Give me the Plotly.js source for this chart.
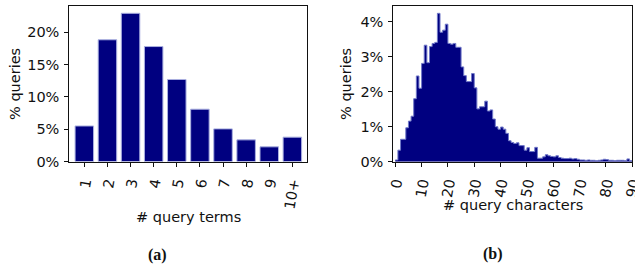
<!DOCTYPE html>
<html>
<head>
<meta charset="utf-8">
<script src="https://cdn.plot.ly/plotly-3.0.1.min.js"></script>
<style>html,body{margin:0;padding:0;background:#fff}#chart{width:635px;height:267px}</style>
</head>
<body>
<div id="chart"></div>
<script>
// (a) query terms
const termLabels = ['1','2','3','4','5','6','7','8','9','10+'];
const termPct = [5.5, 18.85, 22.95, 17.8, 12.7, 8.1, 5.05, 3.35, 2.27, 3.77];

// (b) query characters, one bin per character count starting at 0
const charStart = 0;
const charPct = [
  0.05, 0.33, 0.64, 0.64, 0.97, 1.16, 1.30, 1.80, 2.45, 2.10,
  2.81, 3.33, 2.83, 3.29, 3.38, 3.41, 4.24, 3.70, 3.76, 3.93,
  3.38, 3.36, 3.38, 3.27, 3.27, 2.71, 2.46, 2.29, 2.29, 2.52,
  2.11, 1.51, 1.57, 1.57, 1.73, 1.45, 1.48, 1.22, 1.00, 0.93,
  0.99, 0.93, 0.81, 0.60, 0.55, 0.52, 0.54, 0.46, 0.46, 0.33,
  0.40, 0.29, 0.29, 0.41, 0.10, 0.10, 0.14, 0.20, 0.17, 0.15,
  0.14, 0.17, 0.12, 0.10, 0.09, 0.09, 0.10, 0.08, 0.09, 0.07,
  0.05, 0.05, 0.04, 0.05, 0.04, 0.04, 0.03, 0.04, 0.05, 0.07,
  0.06, 0.04, 0.04, 0.03, 0.04, 0.04, 0.04, 0.03, 0.08, 0.03
];
const termTicks = [0, 5, 10, 15, 20];
const charYTicks = [0, 1, 2, 3, 4];
const charXTicks = [0, 10, 20, 30, 40, 50, 60, 70, 80, 90];

const W = 635, H = 267;
const px = v => v / W, py = v => 1 - v / H;
const FONT = 'DejaVu Sans, sans-serif';
const tickFont = {family: FONT, size: 14.5, color: '#111'};
const titleFont = {family: FONT, size: 14.5, color: '#111'};
const capFont = {family: 'Liberation Serif, serif', size: 16, color: '#111'};

// step outline for the histogram (extend last bin to its right edge)
const stepY = charPct.concat([charPct[charPct.length - 1]]);

const traces = [
  {
    type: 'bar', x: termLabels, y: termPct, xaxis: 'x', yaxis: 'y',
    width: 0.8,
    marker: {color: '#000080', line: {color: '#aab0e0', width: 1}},
    hoverinfo: 'x+y'
  },
  {
    type: 'scatter', mode: 'lines', x0: charStart, dx: 1, y: stepY,
    xaxis: 'x2', yaxis: 'y2', line: {shape: 'hv', color: '#7078c8', width: 1},
    fill: 'tozeroy', fillcolor: '#000080'
  }
];

const axisCommon = {
  showline: true, mirror: true, linecolor: '#111', linewidth: 1,
  ticks: 'outside', ticklen: 4, tickwidth: 1, tickcolor: '#111',
  showgrid: false, zeroline: false, tickfont: tickFont, ticklabelstandoff: 2,
  ticklabeloverflow: 'allow'
};

function ann(text, x, y, font, angle) {
  return {text: text, x: px(x), y: py(y), xref: 'paper', yref: 'paper',
          xanchor: 'center', yanchor: 'middle', textangle: angle || 0,
          showarrow: false, font: font};
}

const layout = {
  width: W, height: H, margin: {l: 0, r: 0, t: 0, b: 0},
  paper_bgcolor: '#fff', plot_bgcolor: '#fff', showlegend: false,
  xaxis: Object.assign({}, axisCommon, {
    domain: [px(69.3), px(306.7)], anchor: 'y', type: 'category',
    range: [-0.65, 9.62], tickangle: -80
  }),
  yaxis: Object.assign({}, axisCommon, {
    domain: [py(161.5), py(6)], anchor: 'x', range: [0, 24.08],
    tickvals: termTicks, ticktext: termTicks.map(v => v + '%')
  }),
  xaxis2: Object.assign({}, axisCommon, {
    domain: [px(393.3), px(632.3)], anchor: 'y2',
    range: [-0.75, 90.05], tickvals: charXTicks, tickangle: -80
  }),
  yaxis2: Object.assign({}, axisCommon, {
    domain: [py(161.7), py(6)], anchor: 'x2', range: [0, 4.45],
    tickvals: charYTicks, ticktext: charYTicks.map(v => v + '%')
  }),
  annotations: [
    ann('% queries', 15, 84, titleFont, -90),
    ann('% queries', 346, 84, titleFont, -90),
    ann('# query terms', 188.5, 216.5, titleFont),
    ann('# query characters', 513, 205, titleFont),
    ann('<b>(a)</b>', 157.5, 254.5, capFont),
    ann('<b>(b)</b>', 493, 254, capFont)
  ]
};

Plotly.newPlot('chart', traces, layout, {displayModeBar: false, staticPlot: true});
</script>
</body>
</html>
